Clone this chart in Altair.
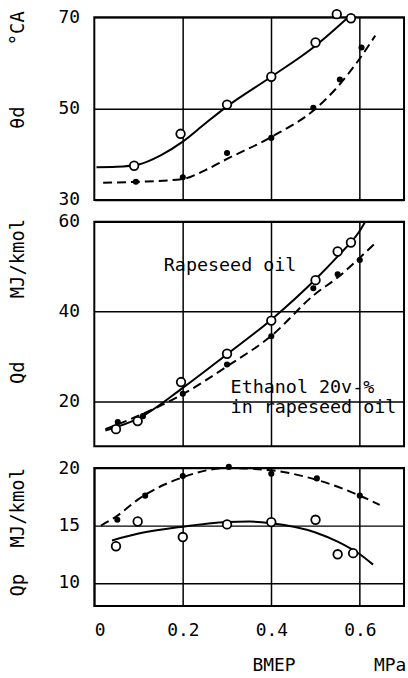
import altair as alt
import pandas as pd

# ---------------- data ----------------
# Panel 1: theta_d (deg CA)
th_rape_x = [0.09, 0.195, 0.30, 0.40, 0.50, 0.548, 0.58]
th_rape_y = [37.5, 44.5, 50.9, 57.0, 64.5, 70.7, 69.8]
th_eth_x = [0.094, 0.20, 0.30, 0.40, 0.495, 0.555, 0.604]
th_eth_y = [34.0, 35.0, 40.3, 43.6, 50.2, 56.4, 63.4]
th_rape_curve_x = [0.005, 0.05, 0.10, 0.15, 0.20, 0.25, 0.30, 0.40, 0.50, 0.585]
th_rape_curve_y = [37.2, 37.3, 37.8, 39.8, 42.8, 46.7, 50.5, 57.0, 63.8, 71.0]
th_eth_curve_x = [0.02, 0.10, 0.20, 0.25, 0.30, 0.40, 0.50, 0.55, 0.60, 0.635]
th_eth_curve_y = [33.8, 34.0, 34.6, 36.5, 39.0, 43.8, 50.0, 54.8, 61.0, 66.0]

# Panel 2: Qd (MJ/kmol)
qd_rape_x = [0.049, 0.098, 0.196, 0.30, 0.40, 0.50, 0.55, 0.58]
qd_rape_y = [13.8, 15.6, 24.3, 30.6, 38.0, 47.0, 53.4, 55.4]
qd_eth_x = [0.053, 0.11, 0.20, 0.30, 0.40, 0.495, 0.55, 0.60]
qd_eth_y = [15.4, 16.7, 21.7, 28.2, 34.5, 45.2, 48.3, 51.5]
qd_rape_curve_x = [0.025, 0.10, 0.20, 0.30, 0.40, 0.50, 0.55, 0.60, 0.615]
qd_rape_curve_y = [13.5, 16.2, 23.0, 30.5, 38.2, 47.2, 52.3, 58.0, 60.5]
qd_eth_curve_x = [0.025, 0.10, 0.20, 0.30, 0.40, 0.50, 0.55, 0.60, 0.632]
qd_eth_curve_y = [13.8, 16.8, 21.6, 27.8, 34.6, 44.0, 47.6, 52.0, 55.0]

# Panel 3: Qp (MJ/kmol)
qp_rape_x = [0.049, 0.098, 0.20, 0.30, 0.40, 0.50, 0.55, 0.585]
qp_rape_y = [13.2, 15.35, 14.0, 15.1, 15.3, 15.5, 12.5, 12.6]
qp_eth_x = [0.052, 0.115, 0.20, 0.304, 0.40, 0.503, 0.60]
qp_eth_y = [15.5, 17.6, 19.3, 20.1, 19.5, 19.1, 17.6]
qp_rape_curve_x = [0.04, 0.10, 0.20, 0.30, 0.35, 0.40, 0.50, 0.55, 0.60, 0.63]
qp_rape_curve_y = [13.7, 14.3, 14.9, 15.3, 15.35, 15.2, 14.4, 13.6, 12.5, 11.6]
qp_eth_curve_x = [0.015, 0.05, 0.10, 0.20, 0.30, 0.40, 0.50, 0.60, 0.645]
qp_eth_curve_y = [15.0, 15.8, 17.3, 19.2, 20.0, 19.8, 19.0, 17.6, 16.8]

x_ticks_all = [0, 0.2, 0.4, 0.6]
x_domain = [0, 0.7]

FONT = "DejaVu Sans Mono"
W = 312


def df(x, y):
    return pd.DataFrame({"x": x, "y": y})


def panel(height, ydom, yvals, rape_pts, eth_pts, rape_curve, eth_curve,
          titles, show_x, extra_texts=None):
    xaxis = alt.Axis(values=x_ticks_all if show_x else [0.2, 0.4, 0.6],
                     grid=True, labels=show_x, ticks=False, domain=False,
                     title=None, format="~g", labelFont=FONT, labelFontSize=18,
                     labelPadding=16, gridColor="black", gridWidth=1.5,
                     labelColor="black")
    yaxis = alt.Axis(values=yvals, grid=True, ticks=False, domain=False,
                     title=None, labelFont=FONT, labelFontSize=18,
                     labelPadding=15, gridColor="black", gridWidth=1.5,
                     labelColor="black")
    X = alt.X("x:Q", scale=alt.Scale(domain=x_domain, nice=False, zero=False), axis=xaxis)
    Y = alt.Y("y:Q", scale=alt.Scale(domain=ydom, nice=False, zero=False), axis=yaxis)

    solid = alt.Chart(df(*rape_curve)).mark_line(
        color="black", strokeWidth=2, interpolate="monotone", clip=True
    ).encode(x=X, y=Y)
    dashed = alt.Chart(df(*eth_curve)).mark_line(
        color="black", strokeWidth=2, strokeDash=[9, 5], interpolate="monotone", clip=True
    ).encode(x=X, y=Y)
    open_pts = alt.Chart(df(*rape_pts)).mark_point(
        shape="circle", filled=True, fill="white", stroke="black",
        strokeWidth=1.8, size=75, opacity=1
    ).encode(x=X, y=Y)
    filled_pts = alt.Chart(df(*eth_pts)).mark_point(
        shape="circle", filled=True, color="black", size=38, opacity=1
    ).encode(x=X, y=Y)

    layers = [solid, dashed, open_pts, filled_pts]

    for txt, py in titles:
        layers.append(
            alt.Chart(pd.DataFrame({"t": [txt]})).mark_text(
                font=FONT, fontSize=19, angle=270, align="center",
                baseline="middle", color="black"
            ).encode(x=alt.value(-77), y=alt.value(py), text="t:N")
        )
    if extra_texts:
        for lines, tx, ty in extra_texts:
            layers.append(
                alt.Chart(pd.DataFrame({"x": [tx], "y": [ty], "t": [lines]})).mark_text(
                    font=FONT, fontSize=18.5, align="left", baseline="middle",
                    color="black"
                ).encode(x=X, y=Y, text="t:N")
            )
    return alt.layer(*layers).properties(width=W, height=height)


p1 = panel(184, [30, 70], [30, 50, 70],
           (th_rape_x, th_rape_y), (th_eth_x, th_eth_y),
           (th_rape_curve_x, th_rape_curve_y), (th_eth_curve_x, th_eth_curve_y),
           [("°CA", 11), ("θd", 101)], False)

p2 = panel(226, [10, 60], [20, 40, 60],
           (qd_rape_x, qd_rape_y), (qd_eth_x, qd_eth_y),
           (qd_rape_curve_x, qd_rape_curve_y), (qd_eth_curve_x, qd_eth_curve_y),
           [("MJ/kmol", 37), ("Qd", 152)], False,
           extra_texts=[("Rapeseed oil", 0.157, 50.4),
                        ("Ethanol 20v-%", 0.308, 23.2),
                        ("in rapeseed oil", 0.308, 18.8)])

p3 = panel(139, [8, 20], [10, 15, 20],
           (qp_rape_x, qp_rape_y), (qp_eth_x, qp_eth_y),
           (qp_rape_curve_x, qp_rape_curve_y), (qp_eth_curve_x, qp_eth_curve_y),
           [("MJ/kmol", 40), ("Qp", 118)], True)

xtitles = alt.Chart(pd.DataFrame({"t": ["BMEP", "MPa"], "px": [181, 298]})).mark_text(
    font=FONT, fontSize=18, align="center", baseline="middle", color="black"
).encode(x=alt.X("px:Q", scale=None, axis=None), y=alt.value(199), text="t:N")

p3 = alt.layer(p3, xtitles)

chart = alt.vconcat(p1, p2, p3, spacing=22, bounds="flush").properties(
    padding={"left": 8, "top": 2, "right": 0, "bottom": 0},
    background="white",
).configure_view(stroke="black", strokeWidth=2)

chart.save("out.html", embed_options={"renderer": "svg", "actions": False})
